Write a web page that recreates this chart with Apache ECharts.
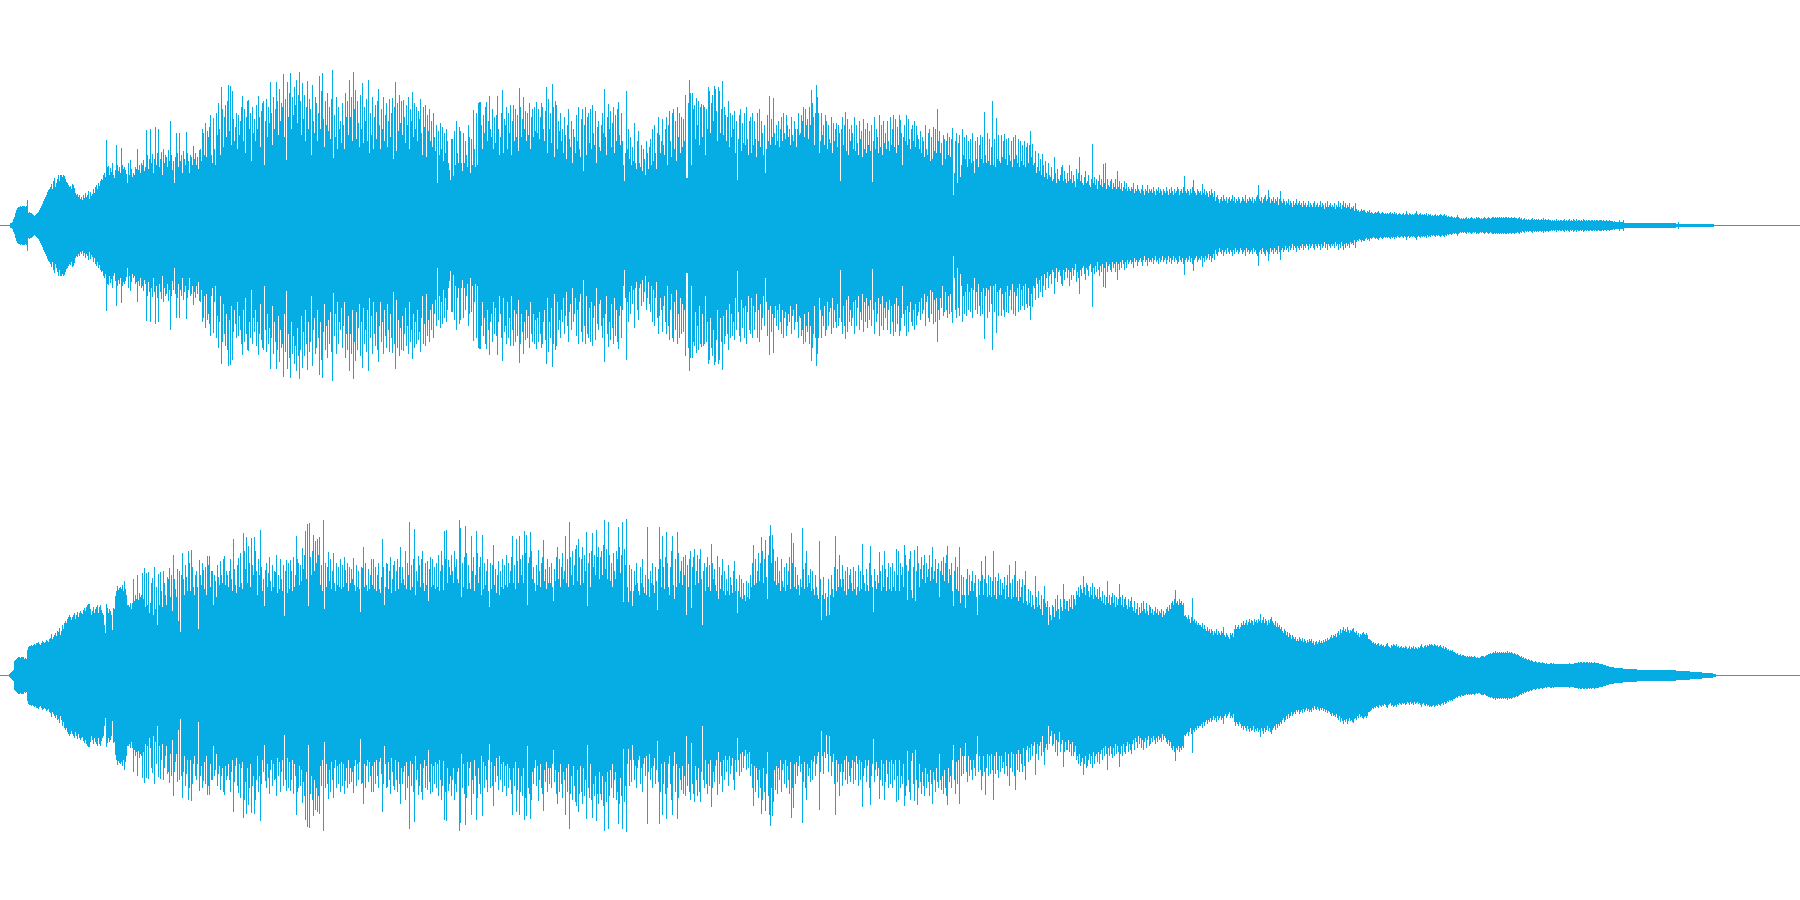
<!DOCTYPE html>
<html>
<head>
<meta charset="utf-8">
<style>html,body{margin:0;padding:0;background:#fff}#c{width:1800px;height:900px}</style>
<script src="https://cdn.jsdelivr.net/npm/echarts@6/dist/echarts.min.js"></script>
</head>
<body>
<div id="c"></div>
<script>
// Peak amplitude per one-sample column. Each row holds 50 columns.
var topChannel = [
[0,0,0,0,0,0,0,0,0,0,2,2,3,6,8,12,15,17,18,18,19,18,19,19,19,18,19,25,12,13,12,12,11,10,9,10,11,12,13,15,17,19,21,24,26,28,30,33,35,36],
[38,41,36,44,47,38,42,46,50,44,50,50,48,50,49,46,43,42,40,38,39,36,41,40,37,32,30,31,28,30,26,28,25,30,27,32,28,30,34,26,33,29,31,36,32,38,40,36,42,39],
[44,46,45,50,52,48,85,58,59,50,57,53,62,50,47,55,80,60,54,58,52,77,60,56,58,55,51,42,62,50,65,56,48,52,50,58,56,76,55,60,52,62,60,65,54,58,95,70,56,66],
[96,62,71,52,66,98,60,72,96,58,66,73,50,76,62,70,68,58,75,64,104,70,55,64,42,68,92,72,58,92,64,70,52,74,66,60,93,72,64,52,70,68,60,79,66,72,60,68,56,75],
[76,64,96,92,70,102,68,94,88,98,110,70,62,107,76,60,112,90,122,96,70,138,116,78,108,120,88,124,140,94,139,80,134,106,84,98,112,76,110,90,104,118,129,84,116,72,108,124,125,96],
[112,64,118,92,106,84,120,96,129,108,78,114,122,124,60,104,126,88,118,102,143,112,80,128,96,116,143,124,90,136,104,122,118,151,88,126,65,143,108,132,152,96,128,110,138,120,145,102,130,153],
[124,90,142,106,130,84,118,144,96,126,116,70,140,104,92,128,122,84,112,149,96,134,152,106,78,124,100,132,94,118,86,126,155,67,110,88,128,76,118,96,104,82,122,100,76,132,108,124,90,145],
[108,128,84,153,116,135,86,124,102,78,130,96,142,82,118,104,126,84,145,72,112,90,128,76,108,120,86,124,136,100,76,116,96,128,84,110,122,78,104,126,88,112,127,66,118,143,74,122,94,130],
[102,124,90,125,108,82,120,100,128,76,116,104,133,88,122,96,118,84,114,106,126,92,70,118,98,120,68,110,94,116,84,104,78,112,88,74,100,42,94,70,102,76,98,64,92,72,96,84,62,55],
[45,86,86,49,94,60,104,72,62,98,94,62,54,92,62,84,70,58,100,88,52,86,60,115,76,58,112,60,122,123,123,100,76,110,92,118,123,84,104,129,96,88,116,76,108,82,110,129,96,70],
[88,112,135,72,106,100,118,76,112,92,120,70,104,120,84,116,88,110,74,137,118,88,106,128,96,114,84,112,90,122,76,108,116,88,118,94,123,92,116,86,108,122,118,96,84,114,138,72,126,96],
[112,82,141,118,68,124,120,76,104,94,112,84,96,72,108,90,66,100,116,86,78,104,62,96,88,72,110,84,118,76,68,106,116,54,100,118,70,108,112,82,116,76,120,92,80,114,62,98,104,78],
[74,100,112,92,136,88,70,108,121,96,114,78,102,118,72,110,84,116,123,90,80,112,84,60,44,72,134,76,96,66,88,60,78,64,102,62,56,84,94,62,58,80,54,76,66,50,84,72,56,78],
[86,60,96,64,100,72,56,92,108,90,72,84,106,80,70,96,108,60,100,114,84,68,112,116,76,104,64,118,88,112,72,108,78,106,84,130,47,47,122,145,132,60,132,116,120,86,127,100,124,80],
[118,121,88,120,118,70,116,96,138,134,92,122,130,104,139,136,114,84,138,134,92,116,144,90,118,110,84,108,124,78,112,88,110,96,114,72,104,45,86,110,116,74,102,82,112,80,118,86,70,104],
[108,72,112,80,104,86,68,112,84,116,78,104,92,70,100,52,76,110,84,129,80,106,88,127,92,80,100,84,104,78,96,108,84,112,92,86,110,100,88,96,80,108,90,84,104,96,78,96,112,90],
[92,110,104,118,88,116,100,106,86,118,100,135,122,108,80,112,140,128,112,72,84,112,90,100,80,110,104,76,100,86,82,108,72,102,84,96,102,78,100,92,44,96,108,80,100,113,74,106,70,96],
[84,100,92,76,108,74,100,82,70,104,86,94,68,106,76,96,72,102,80,94,74,100,43,84,108,76,96,88,72,110,78,100,70,104,82,92,76,104,84,74,108,80,96,110,78,106,72,98,80,110],
[105,92,60,88,100,84,110,80,106,86,76,96,100,84,104,78,99,90,86,76,94,72,88,84,68,100,76,70,92,96,64,88,66,98,74,96,72,116,84,94,72,82,60,90,86,66,84,92,70,88],
[68,86,97,30,52,84,92,42,82,90,48,60,96,70,88,66,90,58,84,66,86,62,92,64,52,84,66,88,58,80,90,66,88,62,113,70,62,92,64,86,60,78,124,60,86,58,107,66,90,64],
[62,90,68,84,91,66,86,60,87,70,64,84,58,88,66,90,70,62,86,58,84,64,80,60,84,58,78,82,62,80,94,68,81,60,62,74,52,58,72,54,66,50,71,60,48,64,52,46,62,50],
[48,58,44,46,68,52,42,56,46,44,50,58,60,44,54,46,42,52,44,60,46,54,42,50,44,38,56,46,52,68,44,50,42,40,48,54,42,44,50,40,38,46,81,42,48,40,46,36,44,50],
[40,46,38,61,42,62,36,46,40,38,44,46,36,42,38,46,36,54,38,44,36,42,34,38,44,36,42,34,38,36,34,38,36,42,32,36,34,40,36,34,32,36,40,34,30,36,34,40,32,36],
[34,36,32,38,34,30,36,34,38,32,36,34,30,36,34,32,38,34,30,36,32,38,34,30,36,32,34,38,36,30,34,36,32,38,49,34,32,36,34,30,36,32,38,45,34,32,30,36,34,32],
[34,30,41,32,36,30,34,32,28,34,30,36,32,28,34,24,28,30,26,22,26,28,24,30,26,24,28,22,26,28,24,26,30,24,28,22,26,24,28,26,22,24,28,26,24,30,22,26,24,28],
[26,24,28,22,26,24,28,30,40,26,24,28,22,26,28,30,24,26,35,28,22,26,24,28,22,26,24,28,20,26,34,24,22,26,24,20,24,22,26,20,24,22,18,24,20,22,26,20,22,24],
[20,22,18,24,20,22,18,20,24,18,22,20,18,22,24,18,20,22,18,20,24,18,22,20,16,22,18,24,18,20,22,18,20,18,22,16,20,18,24,18,22,16,20,24,18,22,17,20,18,22],
[16,18,17,19,14,22,16,14,15,13,14,16,14,15,15,13,12,14,13,15,12,13,12,11,12,13,12,13,14,12,11,12,13,12,11,12,11,12,11,12,13,11,12,11,13,11,12,10,11,12],
[11,10,11,12,10,11,14,11,10,12,11,10,11,10,11,12,14,11,10,11,12,10,11,10,11,10,12,9,11,10,11,9,10,9,10,11,9,10,9,10,11,10,9,10,11,9,10,8,9,8],
[8,9,8,7,8,7,8,10,8,7,6,7,6,7,6,7,8,6,7,6,7,8,7,6,7,6,8,7,8,7,6,7,6,7,8,7,6,7,8,7,6,7,8,8,7,8,7,8,7,8],
[7,8,7,8,7,8,8,7,8,7,7,8,7,7,8,7,7,6,7,8,6,7,5,6,7,5,6,5,6,5,5,6,7,5,6,5,6,5,6,5,5,6,5,7,5,6,5,5,6,5],
[5,4,5,4,5,4,6,4,5,4,5,5,4,5,6,4,5,4,5,6,4,5,4,6,5,4,6,4,5,5,4,5,4,6,5,4,5,4,5,5,4,5,5,4,5,4,5,5,4,5],
[5,5,4,5,4,4,5,4,4,5,4,4,4,3,4,3,3,3,3,5,3,3,3,5,2,2,2,2,2,2,2,2,2,2,2,2,2,2,2,2,2,2,2,2,2,2,2,2,2,2],
[2,2,2,2,2,2,2,2,2,2,2,2,2,2,2,2,2,2,2,2,2,2,2,2,2,2,1,1,3,1,1,1,1,1,1,1,1,1,1,1,1,1,1,1,1,1,1,1,1,1],
[1,1,1,1,1,1,1,1,1,1,1,1,1,1]
];
var bottomChannel = [
[0,0,0,0,0,0,0,0,0,1,2,3,4,5,14,15,16,17,18,18,17,18,18,18,16,17,16,25,28,29,29,30,29,30,31,30,32,32,33,31,30,32,34,33,32,33,35,34,33,36],
[37,41,36,38,40,42,39,44,43,47,40,44,50,46,52,54,52,56,58,60,58,55,58,60,62,56,60,63,58,62,64,62,61,65,67,64,68,70,71,71,66,60,64,68,62,66,68,70,62,68],
[70,65,62,60,50,42,71,67,62,66,64,60,45,67,66,79,84,89,85,87,88,86,90,84,94,86,80,70,70,68,72,66,72,96,74,80,76,100,75,82,78,80,102,76,107,68,102,70,103,62],
[72,92,97,60,108,66,88,50,101,70,103,84,68,104,92,80,70,98,96,107,78,100,64,120,96,86,78,106,54,104,43,100,122,96,80,110,98,84,124,112,84,125,108,88,80,100,104,88,46,115],
[100,90,112,105,86,108,80,119,110,119,88,104,104,70,100,94,78,110,98,90,114,100,92,116,119,90,104,100,88,104,116,96,84,136,106,90,82,110,117,88,122,92,86,142,124,106,138,92,129,112],
[88,137,110,100,138,124,104,80,116,100,145,108,84,96,69,105,112,88,102,118,94,84,110,88,104,103,120,82,100,86,116,96,84,110,59,104,115,82,112,86,115,104,84,118,88,100,139,116,112,90],
[110,94,127,106,120,144,96,151,69,152,118,100,124,140,104,134,112,136,120,138,90,110,84,155,66,112,88,108,123,94,116,86,104,122,92,84,112,90,108,88,116,86,110,88,118,105,92,112,84,108],
[92,106,96,117,90,84,110,88,104,86,63,108,107,128,88,112,90,84,106,86,100,116,90,116,86,108,84,100,112,86,82,98,136,108,70,88,112,111,86,104,118,82,96,110,114,84,104,116,86,108],
[128,92,108,96,90,124,86,112,100,153,85,110,88,116,146,80,104,94,119,110,88,116,124,92,84,112,90,114,74,106,118,88,116,90,108,86,112,88,120,84,104,124,110,85,144,116,145,92,115,108],
[100,120,104,92,124,108,116,96,92,155,147,78,112,88,118,149,122,86,110,92,86,139,104,118,84,100,144,122,92,108,118,80,140,86,112,90,104,116,84,68,112,86,110,130,90,106,82,100,114,80],
[104,88,116,86,110,90,120,88,112,92,104,118,139,92,110,86,136,114,92,139,116,100,120,92,144,122,140,70,112,118,143,124,96,108,92,84,110,90,125,104,88,112,118,135,94,106,86,116,92,108],
[92,112,88,74,106,94,118,128,96,116,88,108,122,96,104,139,92,116,88,153,118,100,124,90,110,126,130,94,136,118,90,116,128,92,120,104,143,69,112,122,88,124,142,108,120,100,145,118,128,96],
[118,124,100,130,155,106,126,96,153,120,94,112,88,122,104,96,124,116,148,128,102,120,153,73,126,110,156,88,73,110,84,106,69,84,104,90,112,92,84,80,108,92,116,88,82,100,80,148,96,78],
[104,92,112,90,82,108,94,65,106,148,116,88,139,108,86,118,143,112,88,80,108,124,139,90,76,116,88,143,122,92,104,114,90,118,100,120,60,110,88,116,124,67,108,118,126,90,104,120,92,116],
[126,96,50,104,112,84,108,118,88,110,84,131,112,96,106,90,84,119,76,108,86,100,116,84,104,80,96,84,110,80,98,90,82,104,114,84,96,62,84,100,78,96,76,92,80,74,94,78,92,76],
[100,88,112,130,90,116,92,104,122,94,112,138,124,92,116,135,98,76,120,139,150,112,140,126,94,114,90,118,92,104,84,116,94,88,108,84,112,90,104,118,86,142,112,132,88,108,86,100,90,80],
[96,88,147,106,86,112,124,88,100,92,106,84,104,86,80,100,88,80,76,134,96,55,80,98,76,82,59,78,96,60,80,100,86,78,108,139,84,106,88,120,96,88,110,96,84,104,80,108,86,100],
[106,92,84,108,86,104,80,88,110,84,104,86,131,100,92,84,106,90,84,112,129,100,88,63,106,94,86,100,92,123,104,84,110,88,124,106,84,98,112,86,108,84,112,88,104,84,126,100,124,84],
[112,100,108,88,130,120,110,75,104,116,124,85,77,108,125,74,104,129,112,88,106,118,96,110,120,92,112,98,106,120,94,108,128,96,104,116,92,106,112,78,104,114,100,118,94,112,120,129,92,106],
[100,112,84,69,104,118,86,108,84,128,72,100,80,98,80,67,96,106,80,100,84,94,104,84,92,100,78,60,96,80,94,114,100,80,96,119,92,78,100,80,98,78,94,124,80,98,76,94,102,80],
[96,80,92,86,98,76,90,100,78,110,92,76,96,78,100,114,78,94,74,96,78,88,96,72,90,104,74,70,86,72,84,68,80,70,66,99,78,68,84,70,66,80,60,76,89,72,68,74,50,68],
[60,55,70,68,58,76,64,80,66,56,76,68,64,91,76,66,74,74,64,76,68,80,66,80,76,70,84,80,88,78,90,86,82,99,88,80,92,90,84,78,88,80,92,76,88,80,78,86,76,88],
[78,74,84,72,80,70,78,94,72,80,70,78,82,72,80,68,78,70,76,91,78,70,80,68,76,78,70,66,76,68,74,78,68,64,74,62,66,72,60,68,62,72,64,74,66,62,72,64,60,70],
[68,62,66,60,64,68,62,66,60,64,62,66,58,64,60,62,66,68,64,70,66,72,74,70,76,85,72,74,70,76,72,74,70,72,59,60,58,56,60,56,52,58,77,54,56,52,54,50,52,50],
[50,48,52,46,50,46,44,48,44,46,42,46,44,40,44,42,46,40,44,42,40,44,42,48,40,38,42,40,38,36,42,40,42,38,46,50,46,48,50,46,48,52,50,54,50,52,55,50,53,56],
[52,55,54,50,56,53,55,52,56,54,61,52,55,58,52,56,54,50,55,52,56,58,54,52,50,54,48,52,48,50,46,48,44,42,46,44,40,43,38,42,40,36,40,38,36,38,34,36,34,38],
[36,34,37,33,36,34,32,35,33,36,34,36,32,34,30,33,34,31,33,35,32,34,32,35,33,36,34,37,35,36,38,40,37,40,39,41,38,42,44,40,46,42,45,48,44,46,43,48,45,42],
[45,44,46,47,43,42,44,40,42,38,41,40,42,43,41,40,42,40,36,36,35,34,32,33,31,32,30,31,32,29,30,31,29,30,28,29,31,32,29,28,27,30,29,31,30,29,31,28,29,27],
[28,29,27,28,27,29,28,26,27,29,26,28,27,29,26,28,27,26,28,27,29,31,28,27,29,30,28,30,29,31,30,31,30,29,31,30,29,30,28,29,30,28,27,29,26,28,27,25,26,24],
[25,24,25,23,23,22,21,22,20,20,21,19,20,20,19,19,18,19,18,19,18,19,18,18,19,18,17,18,17,17,18,19,19,19,18,19,20,20,21,21,22,21,22,23,22,24,22,23,22,23],
[22,23,22,23,22,23,22,24,22,23,22,23,22,21,22,21,20,21,20,19,18,19,17,18,16,17,16,15,16,15,14,15,14,13,13,14,13,12,13,13,12,12,13,12,12,11,12,11,11,11],
[12,12,11,12,11,11,11,11,11,11,11,11,11,11,11,11,11,11,11,12,11,11,11,11,12,12,12,12,13,12,13,13,12,13,13,12,13,13,12,13,12,13,12,12,13,12,12,12,12,11],
[11,11,11,10,10,10,9,9,9,8,8,8,8,8,7,7,7,7,7,7,7,7,7,6,6,6,6,6,6,6,6,6,6,6,6,6,6,5,5,5,5,5,5,5,5,5,5,5,5,5],
[5,5,5,5,5,5,5,5,5,5,5,5,5,5,5,5,5,5,5,5,5,5,5,5,5,5,4,4,4,4,4,4,4,4,4,4,4,4,4,4,3,3,3,3,3,3,3,3,3,3],
[3,3,2,2,2,2,2,2,2,2,2,2,2,1,1,1]
];
var columnsPerRow = 50;
var waveColor = '#06ADE5';

function toColumns(rows) {
  var out = [];
  rows.forEach(function (row, r) {
    row.forEach(function (v, j) { out.push([r * columnsPerRow + j, v]); });
  });
  return out;
}
function renderColumn(params, api) {
  var a = api.coord([api.value(0), api.value(1)]);
  var b = api.coord([api.value(0), -api.value(1)]);
  return {
    type: 'rect',
    shape: { x: a[0], y: a[1], width: 1, height: b[1] - a[1] + 1 },
    style: { fill: waveColor }
  };
}
function xAxisFor(i) {
  return {
    type: 'value', gridIndex: i, min: 0, max: 1800,
    axisLine: { show: true, onZero: true, lineStyle: { color: waveColor, width: 1 } },
    axisTick: { show: false }, axisLabel: { show: false }, splitLine: { show: false }
  };
}
function yAxisFor(i) {
  return { type: 'value', gridIndex: i, min: -225, max: 225, show: false, splitLine: { show: false } };
}
function seriesFor(i, rows) {
  return {
    type: 'custom', xAxisIndex: i, yAxisIndex: i, coordinateSystem: 'cartesian2d',
    renderItem: renderColumn, data: toColumns(rows), encode: { x: 0, y: 1 },
    silent: true, animation: false, progressive: 0, clip: false
  };
}
var chart = echarts.init(document.getElementById('c'), null, { renderer: 'canvas' });
chart.setOption({
  backgroundColor: '#ffffff',
  animation: false,
  grid: [
    { left: 0, right: 0, top: 0, height: 450 },
    { left: 0, right: 0, top: 450, height: 450 }
  ],
  xAxis: [xAxisFor(0), xAxisFor(1)],
  yAxis: [yAxisFor(0), yAxisFor(1)],
  series: [seriesFor(0, topChannel), seriesFor(1, bottomChannel)]
});
</script>
</body>
</html>
